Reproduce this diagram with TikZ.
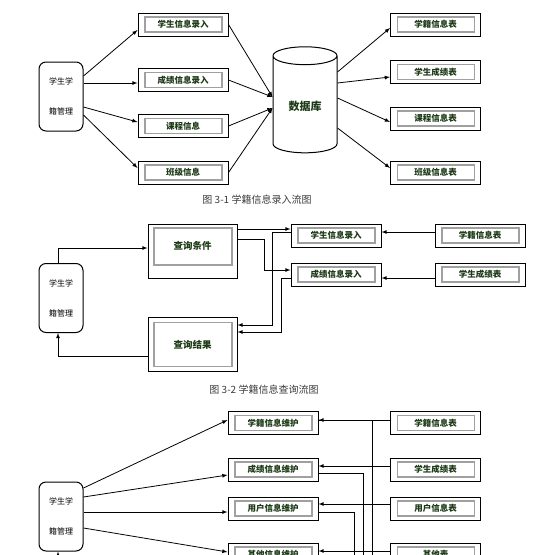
\documentclass[tikz,border=0pt]{standalone}
\usepackage{fontspec}
\setmainfont{Noto Sans CJK SC}
\usetikzlibrary{shapes.geometric}
\definecolor{tbltext}{RGB}{28,58,22}
\definecolor{framegray}{RGB}{160,160,160}
\definecolor{captext}{RGB}{60,60,60}

\begin{document}
\begin{tikzpicture}[
  x=1pt, y=-1pt,
  flow/.style={-latex, line width=0.8pt},
  link/.style={line width=0.8pt},
  tbl/.style={
    draw,
    line width=1pt,
    minimum width=90pt, minimum height=23pt, inner sep=0pt,
    font=\fontsize{8.5}{9}\selectfont\bfseries, text=tbltext,
    path picture={\draw[framegray, line width=1.2pt]
      ([shift={(7pt,-4pt)}]path picture bounding box.north west) rectangle
      ([shift={(-6pt,4pt)}]path picture bounding box.south east);}
  },
  qbox/.style={
    draw,
    line width=1pt,
    minimum width=89pt, minimum height=54pt, inner sep=0pt,
    font=\fontsize{9.5}{10}\selectfont\bfseries, text=tbltext,
    path picture={\draw[framegray, line width=1.8pt]
      ([shift={(6pt,-5pt)}]path picture bounding box.north west) rectangle
      ([shift={(-5pt,5pt)}]path picture bounding box.south east);}
  },
  user/.style={
    draw,
    rounded corners=7pt,
    line width=1pt,
    minimum width=44pt, minimum height=69pt,
    align=center, font=\fontsize{8}{30}\selectfont
  },
  figcap/.style={font=\fontsize{10}{10}\selectfont, text=captext}
]
  \useasboundingbox (0, 0) rectangle (541, 555);
  \fill[white] (0, 0) rectangle (541, 555);
  \clip (0, 0) rectangle (541, 555);

  % 3-1
  \draw node[user] (u1) at (61, 96.5) {学生学\\籍管理};
  \draw node[tbl] (a1) at (183, 24.5) {学生信息录入};
  \draw node[tbl] (a2) at (183, 80) {成绩信息录入};
  \draw node[tbl] (a3) at (183, 126) {课程信息};
  \draw node[tbl] (a4) at (183, 172.5) {班级信息};
  \draw node[
    cylinder,
    shape border rotate=90,
    aspect=0.45,
    draw,
    line width=1pt,
    minimum width=64pt, minimum height=106pt,
    font=\fontsize{11}{11}\selectfont\bfseries,
    text=tbltext
  ] (db) at (305, 106.5) {数据库};
  \draw node[tbl] (t1) at (435.5, 24.5) {学籍信息表};
  \draw node[tbl] (t2) at (435.5, 72) {学生成绩表};
  \draw node[tbl] (t3) at (435.5, 118.5) {课程信息表};
  \draw node[tbl] (t4) at (435.5, 172.5) {班级信息表};

  \draw[flow] ([yshift=20.5pt]u1.east) -- ([yshift=-5.5pt]a1.west);
  \draw[flow] ([yshift=13.5pt]u1.east) -- ([yshift=-3pt]a2.west);
  \draw[flow] ([yshift=-10.5pt]u1.east) -- ([yshift=4pt]a3.west);
  \draw[flow] ([yshift=-18.5pt]u1.east) -- ([yshift=4.5pt]a4.west);

  \draw[flow] (a1.east) -- ([yshift=9.5pt]db.west);
  \draw[flow] (a2.east) -- ([yshift=9.5pt]db.west);
  \draw[flow] (a3.east) -- ([yshift=-1.5pt]db.west);
  \draw[flow] (a4.east) -- ([yshift=-1.5pt]db.west);

  \draw[flow] ([yshift=34.5pt]db.east) -- ([yshift=-3.5pt]t1.west);
  \draw[flow] ([yshift=23.5pt]db.east) -- ([yshift=-5pt]t2.west);
  \draw[flow] ([yshift=8.5pt]db.east) -- ([yshift=-3.5pt]t3.west);
  \draw[flow] ([yshift=-21.5pt]db.east) -- ([yshift=4.5pt]t4.west);

  \node[figcap] (c1) at (257, 200) {图 3-1 学籍信息录入流图};

  % 3-2
  \draw node[user] (u2) at (61, 298) {学生学\\籍管理};
  \draw node[qbox, text depth=11pt,
    path picture={\draw[framegray, line width=1.8pt]
      ([shift={(6pt,-4pt)}]path picture bounding box.north west) rectangle
      ([shift={(-5pt,13pt)}]path picture bounding box.south east);}
  ] (q1) at (192.5, 251) {查询条件};
  \draw node[qbox] (q2) at (192.5, 344.5) {查询结果};
  \draw node[tbl] (r1) at (336, 235.5) {学生信息录入};
  \draw node[tbl] (r2) at (336, 274.5) {成绩信息录入};
  \draw node[tbl] (s1) at (480, 235.5) {学籍信息表};
  \draw node[tbl] (s2) at (480, 274.5) {学生成绩表};

  \draw[flow] ([xshift=-3pt]u2.north) |- ([yshift=3pt]q1.west);
  \draw[flow] ([yshift=-11.5pt]q2.west) -| ([xshift=-3pt]u2.south);
  \draw[flow] ([yshift=22pt]q1.east) -- ([yshift=6.5pt]r1.west);
  \draw[flow] ([yshift=12pt]q1.east) -- ++(27, 0) |- ([yshift=4.5pt]r2.west);
  \draw[flow] ([yshift=3.5pt]r1.west) -- ++(-18, 0) |- ([yshift=19.5pt]q2.east);
  \draw[flow] ([yshift=-3.5pt]r2.west) -- ++(-9, 0) |- ([yshift=12.5pt]q2.east);
  \draw[flow] ([yshift=3.5pt]s1.west) -- ([yshift=3.5pt]r1.east);
  \draw[flow] ([yshift=-3.5pt]s2.west) -- ([yshift=-3.5pt]r2.east);

  \node[figcap] (c2) at (264, 390) {图 3-2 学籍信息查询流图};

  % 3-3
  \draw node[user] (u3) at (61, 516.5) {学生学\\籍管理};
  \draw node[tbl] (m1) at (273, 423) {学籍信息维护};
  \draw node[tbl] (m2) at (273, 469.5) {成绩信息维护};
  \draw node[tbl] (m3) at (273, 508.5) {用户信息维护};
  \draw node[tbl] (m4) at (273, 554.5) {其他信息维护};
  \draw node[tbl] (n1) at (435.5, 423) {学籍信息表};
  \draw node[tbl] (n2) at (435.5, 469.5) {学生成绩表};
  \draw node[tbl] (n3) at (435.5, 508.5) {用户信息表};
  \draw node[tbl] (n4) at (435.5, 554.5) {其他表};
  \coordinate (b3) at (58, 580);

  \draw[flow] ([yshift=28.5pt]u3.east) -- ([yshift=3pt]m1.west);
  \draw[flow] ([yshift=19.5pt]u3.east) -- ([yshift=-5.5pt]m2.west);
  \draw[flow] ([yshift=4.5pt]u3.east) -- ([yshift=-3.5pt]m3.west);
  \draw[flow] ([yshift=-11.5pt]u3.east) -- ([yshift=2.5pt]m4.west);

  \draw[flow] ([yshift=3pt]n1.west) -- ([yshift=3pt]m1.east);
  \draw[flow] ([yshift=3.5pt]n2.west) -- ([yshift=3.5pt]m2.east);
  \draw[flow] ([yshift=4.5pt]n3.west) -- ([yshift=4.5pt]m3.east);
  \draw[flow] ([yshift=3.5pt]n4.west) -- ([yshift=3.5pt]m4.east);

  \draw[link] ([yshift=3pt]m1.east) -| ++(54, 160);
  \draw[link] ([yshift=-3.5pt]m2.east) -| ++(45, 120);
  \draw[link] ([yshift=-3.5pt]m3.east) -| ++(36, 80);
  \draw[flow] (b3) -- ([xshift=-3pt]u3.south);

\end{tikzpicture}
\end{document}
